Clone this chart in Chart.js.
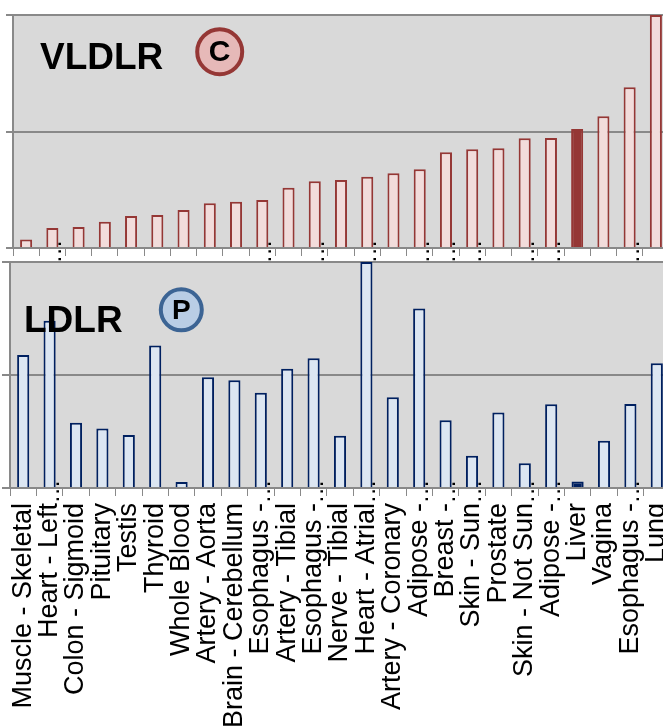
<!DOCTYPE html>
<html>
<head>
<meta charset="utf-8">
<script src="https://cdn.jsdelivr.net/npm/chart.js@4"></script>
<style>
  html, body { margin: 0; padding: 0; background: #fff; overflow: hidden; }
  .panel { position: absolute; left: 0; }
  #top-panel { top: 0; width: 671px; height: 264px; }
  #bottom-panel { top: 255px; width: 672px; height: 473px; }
</style>
</head>
<body>
<div class="panel" id="top-panel"><canvas id="vldlr-chart"></canvas></div>
<div class="panel" id="bottom-panel"><canvas id="ldlr-chart"></canvas></div>
<script>
// Tissues, shared by both panels (long names cut the way the original shows them)
const tissues = [
  'Muscle - Skeletal', 'Heart - Left…', 'Colon - Sigmoid', 'Pituitary', 'Testis',
  'Thyroid', 'Whole Blood', 'Artery - Aorta', 'Brain - Cerebellum', 'Esophagus - …',
  'Artery - Tibial', 'Esophagus - …', 'Nerve - Tibial', 'Heart - Atrial…', 'Artery - Coronary',
  'Adipose - …', 'Breast - …', 'Skin - Sun…', 'Prostate', 'Skin - Not Sun…',
  'Adipose - …', 'Liver', 'Vagina', 'Esophagus - …', 'Lung'
];

// Relative expression, top panel (VLDLR) and bottom panel (LDLR)
const vldlrValues = [
  3.7, 8.6, 9.0, 11.3, 13.7, 14.2, 16.3, 19.2, 19.9, 20.6,
  25.9, 28.6, 29.2, 30.6, 32.1, 33.8, 41.1, 42.4, 42.8, 47.1,
  47.2, 51.1, 56.5, 69.0, 100
];
const ldlrValues = [
  58.8, 74.0, 28.9, 26.3, 23.5, 63.1, 2.6, 49.0, 47.7, 42.2,
  52.8, 57.4, 23.1, 100, 40.2, 79.4, 30.0, 14.3, 33.4, 10.9,
  37.1, 2.9, 20.9, 37.2, 55.2
];

const yTicks = [0, 50, 100];
const highlightTissue = 'Liver';

const fontFamily = '"Liberation Sans", Arial, sans-serif';
const gridColor = '#898989';

// Draws the gene name and the round badge in the corner of a panel
const panelLabel = {
  id: 'panelLabel',
  afterDraw(chart, args, opts) {
    const ctx = chart.ctx;
    ctx.save();
    ctx.fillStyle = '#000';
    ctx.font = 'bold 37px ' + fontFamily;
    ctx.textAlign = 'left';
    ctx.textBaseline = 'alphabetic';
    ctx.fillText(opts.title, opts.titleX, opts.titleY);

    ctx.beginPath();
    ctx.arc(opts.badgeX, opts.badgeY, opts.badgeR, 0, Math.PI * 2);
    ctx.fillStyle = opts.badgeFill;
    ctx.fill();
    ctx.lineWidth = 4;
    ctx.strokeStyle = opts.badgeStroke;
    ctx.stroke();

    ctx.fillStyle = '#000';
    ctx.font = 'bold ' + opts.badgeSize + 'px ' + fontFamily;
    ctx.textAlign = 'center';
    ctx.textBaseline = 'middle';
    ctx.fillText(opts.badge, opts.badgeX, opts.badgeY + 1);
    ctx.restore();
  }
};

// The cut labels spill their "…" up across the axis line, as in the original
const labelEllipsis = {
  id: 'labelEllipsis',
  afterDraw(chart) {
    const x = chart.scales.x;
    const ctx = chart.ctx;
    ctx.save();
    ctx.fillStyle = '#000';
    ctx.font = '24px ' + fontFamily;
    ctx.textAlign = 'left';
    ctx.textBaseline = 'alphabetic';
    tissues.forEach((t, i) => {
      if (!t.endsWith('…')) return;
      ctx.save();
      ctx.translate(x.getPixelForValue(i) + 9, x.top + 15.5);
      ctx.rotate(-Math.PI / 2);
      ctx.fillText('…', 0, 0);
      ctx.restore();
    });
    ctx.restore();
  }
};

// Gray plot background
const plotBackground = {
  id: 'plotBackground',
  beforeDraw(chart) {
    const a = chart.chartArea;
    const ctx = chart.ctx;
    ctx.save();
    ctx.fillStyle = '#d9d9d9';
    ctx.fillRect(a.left, a.top, a.right - a.left, a.bottom - a.top);
    ctx.restore();
  }
};

function buildPanel(canvasId, values, style) {
  const ctx = document.getElementById(canvasId).getContext('2d');
  const fills = tissues.map(t => t === highlightTissue ? style.dark : style.light);

  return new Chart(ctx, {
    type: 'bar',
    data: {
      labels: tissues,
      datasets: [{
        data: values,
        backgroundColor: fills,
        borderColor: style.dark,
        borderWidth: 2,
        borderSkipped: 'bottom',
        barPercentage: 0.46,
        categoryPercentage: 1
      }]
    },
    options: {
      responsive: true,
      maintainAspectRatio: false,
      animation: false,
      layout: { padding: style.padding },
      scales: {
        x: {
          ticks: style.showLabels ? {
            display: true,
            autoSkip: false,
            maxRotation: 90,
            minRotation: 90,
            padding: 7,
            color: '#000',
            font: { family: fontFamily, size: 27 },
            callback: (v, i) => tissues[i].replace('…', '').trimEnd()
          } : { display: false },
          grid: { drawOnChartArea: false, drawTicks: true, tickLength: 8, color: gridColor, lineWidth: 1 },
          border: { display: true, color: gridColor, width: 2 },
          afterFit: s => { s.height = style.xHeight; s.paddingLeft = 0; s.paddingRight = 0; }
        },
        y: {
          min: 0,
          max: 100,
          afterBuildTicks: s => { s.ticks = yTicks.map(v => ({ value: v })); },
          ticks: { display: false },
          grid: { color: gridColor, lineWidth: 2, drawTicks: true, tickLength: style.yTick },
          border: { display: true, color: gridColor, width: 2 },
          afterFit: s => { s.width = style.yTick; }
        }
      },
      plugins: {
        legend: { display: false },
        tooltip: { enabled: false },
        panelLabel: style.label
      }
    },
    plugins: [plotBackground, panelLabel, labelEllipsis]
  });
}

buildPanel('vldlr-chart', vldlrValues, {
  light: '#f2dcdb',
  dark: '#953735',
  showLabels: false,
  xHeight: 8,
  yTick: 7,
  padding: { top: 15, left: 6, right: 2, bottom: 8 },
  label: {
    title: 'VLDLR', titleX: 40, titleY: 69,
    badge: 'C', badgeSize: 30, badgeX: 219.7, badgeY: 51.7, badgeR: 22.5,
    badgeFill: '#e6b9b8', badgeStroke: '#953735'
  }
});

buildPanel('ldlr-chart', ldlrValues, {
  light: '#dce6f2',
  dark: '#002060',
  showLabels: true,
  xHeight: 240,
  yTick: 8,
  padding: { top: 7, left: 2, right: 2, bottom: 0 },
  label: {
    title: 'LDLR', titleX: 24, titleY: 76.7,
    badge: 'P', badgeSize: 28, badgeX: 181.3, badgeY: 54.8, badgeR: 20.5,
    badgeFill: '#b9cde5', badgeStroke: '#3c6494'
  }
});
</script>
</body>
</html>
